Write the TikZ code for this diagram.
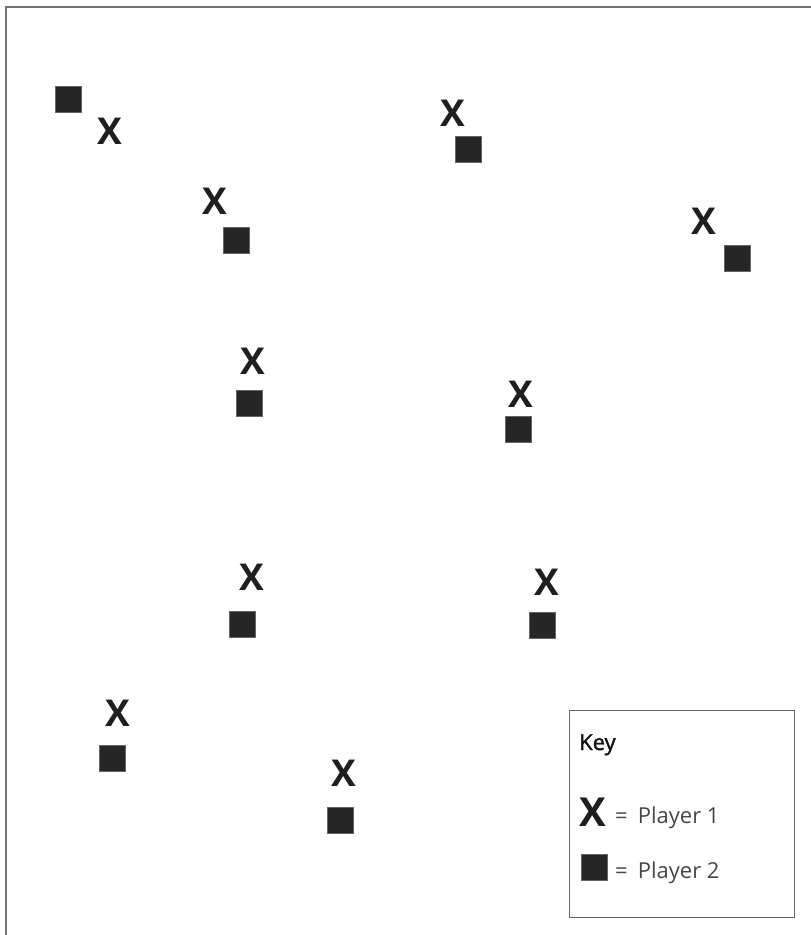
\documentclass[tikz,border=0pt]{standalone}
\usepackage{fontspec}
\setmainfont{Open Sans}
\newfontfamily\keyfont[FakeBold=1.6]{Open Sans}
\begin{document}
\begin{tikzpicture}[x=1pt,y=-1pt,
  sq/.style={fill=black!85,draw=black!60,line width=0.4pt,minimum size=26pt,inner sep=0pt,outer sep=0pt},
  px/.style={font=\fontsize{37}{37}\selectfont\bfseries,inner sep=0pt,text=black!88},
  keytext/.style={font=\fontsize{22}{22}\selectfont,inner sep=0pt,anchor=base west,text=black!72},
  frame/.style={draw=black!55,line width=1.4pt}]
\useasboundingbox (0,0) rectangle (811,935);
% frame
\coordinate (ftl) at (6,7);
\coordinate (ftr) at (811,7);
\coordinate (fbl) at (6,935);
\draw[frame] (fbl) -- (ftl) -- (ftr);
% players
\node[sq] (s1) at (68,99) {};
\node[px] (x1) at (110,131) {X};
\node[px] (x2) at (453,113) {X};
\node[sq] (s2) at (468,149) {};
\node[px] (x3) at (215,201) {X};
\node[sq] (s3) at (236,240) {};
\node[px] (x4) at (704,221) {X};
\node[sq] (s4) at (737,258) {};
\node[px] (x5) at (253,361) {X};
\node[sq] (s5) at (249,403) {};
\node[px] (x6) at (521,394) {X};
\node[sq] (s6) at (518,429) {};
\node[px] (x7) at (252,577) {X};
\node[sq] (s7) at (242,624) {};
\node[px] (x8) at (547,582) {X};
\node[sq] (s8) at (542,625) {};
\node[px] (x9) at (118,713) {X};
\node[sq] (s9) at (112,758) {};
\node[px] (x10) at (344,773) {X};
\node[sq] (s10) at (340,820) {};
% key
\node[draw=black!60,line width=1pt,minimum width=225pt,minimum height=207pt,inner sep=0pt,anchor=north west] (keybox) at (569,710) {};
\node[font=\keyfont\fontsize{22}{22}\selectfont,inner sep=0pt,anchor=base west,text=black!92] (keylabel) at (579,750) {Key};
\node[px,font=\fontsize{40}{40}\selectfont\bfseries] (kx) at (593,812) {X};
\node[keytext] (k1) at (615,823) {=\hspace{10pt}Player 1};
\node[sq] (ks) at (594,867) {};
\node[keytext] (k2) at (615,878) {=\hspace{10pt}Player 2};
\end{tikzpicture}
\end{document}
